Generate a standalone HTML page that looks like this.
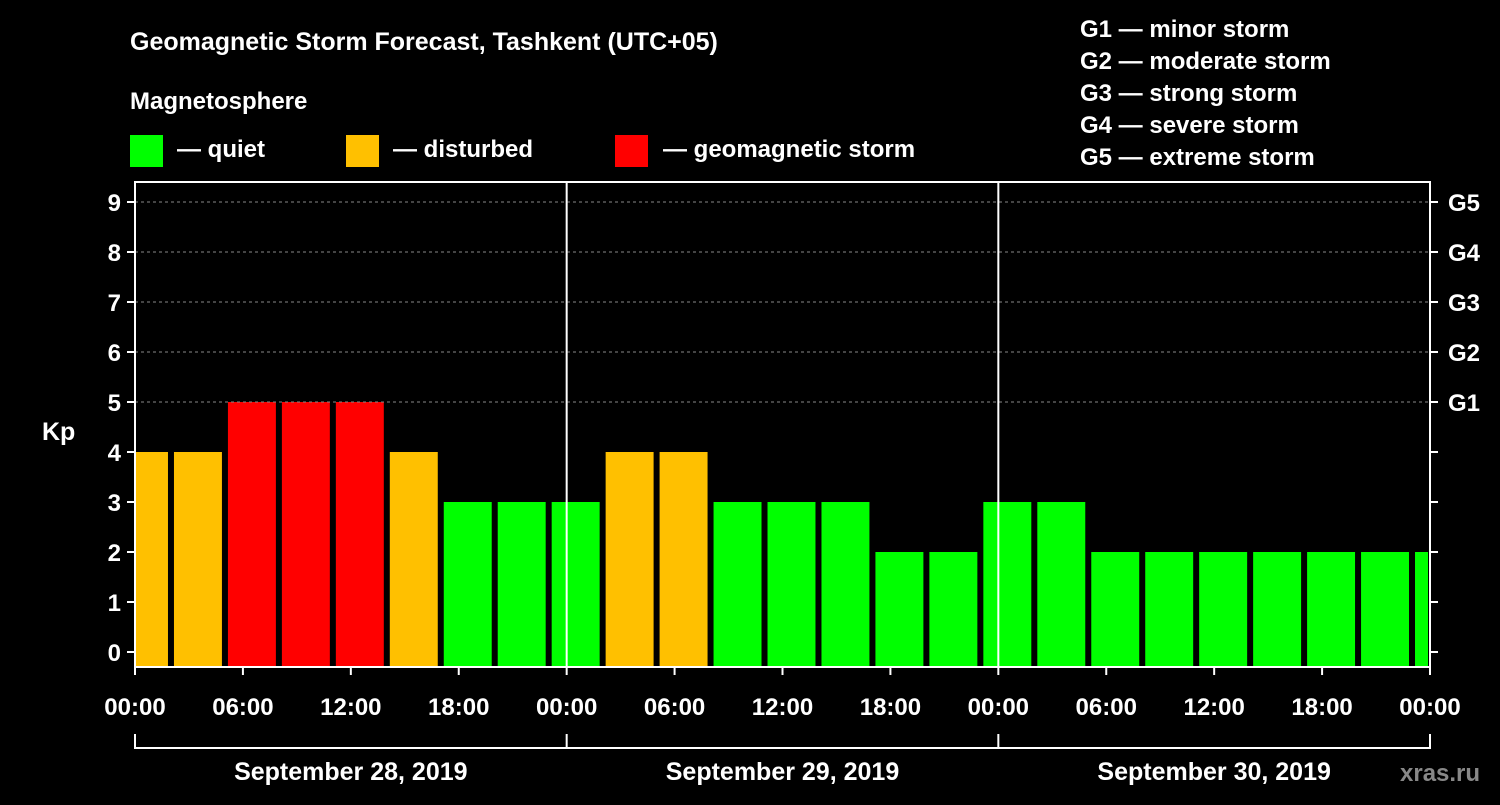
<!DOCTYPE html>
<html><head><meta charset="utf-8"><style>
body{margin:0;background:#000;}
svg text{font-family:"Liberation Sans",Arial,sans-serif;font-weight:bold;fill:#fff;}
</style></head><body>
<svg id="c" width="1500" height="800" xmlns="http://www.w3.org/2000/svg">
<rect width="1500" height="800" fill="#000"/>
<text x="130" y="50" font-size="25">Geomagnetic Storm Forecast, Tashkent (UTC+05)</text>
<text x="130" y="109" font-size="24">Magnetosphere</text>
<g><rect x="130" y="135" width="33" height="32" fill="#00ff00"/><text x="177" y="157" font-size="24">— quiet</text></g>
<g><rect x="346" y="135" width="33" height="32" fill="#ffc000"/><text x="393" y="157" font-size="24">— disturbed</text></g>
<g><rect x="615" y="135" width="33" height="32" fill="#ff0000"/><text x="663" y="157" font-size="24">— geomagnetic storm</text></g>
<g font-size="24">
<text x="1080" y="37">G1 — minor storm</text><text x="1080" y="69">G2 — moderate storm</text><text x="1080" y="101">G3 — strong storm</text><text x="1080" y="133">G4 — severe storm</text><text x="1080" y="165">G5 — extreme storm</text></g>
<text x="42" y="440" font-size="25">Kp</text>
<text x="1400" y="781" font-size="24" fill="#888" style="fill:#888">xras.ru</text>
<g id="plot"></g>
</svg>
<script>
const values=[4,4,5,5,5,4,3,3,3,4,4,3,3,3,2,2,3,3,2,2,2,2,2,2,2];
const yTicks=[0,1,2,3,4,5,6,7,8,9];
const gLabels=["G1","G2","G3","G4","G5"];
const xLabels=["00:00","06:00","12:00","18:00","00:00","06:00","12:00","18:00","00:00","06:00","12:00","18:00","00:00"];
const dates=["September 28, 2019","September 29, 2019","September 30, 2019"];
const L=135,R=1430,T=182,B=667,hw=(R-L)/72;
const y=v=>652-v*50, x=h=>L+h*hw;
const NS="http://www.w3.org/2000/svg",g=document.getElementById('plot');
function mk(t,a,p){const e=document.createElementNS(NS,t);for(const k in a)e.setAttribute(k,a[k]);(p||g).appendChild(e);return e;}
values.forEach((v,i)=>{
 let s=Math.max(0,-1+3*i)+(i?3/hw:0), e=Math.min(72,2+3*i)-3/hw;
 let x0=i==0?L+1:x(-1+3*i)+3, x1=Math.min(x(2+3*i)-3,R-2);
 const c=v>=5?"#ff0000":v>=4?"#ffc000":"#00ff00";
 const r=mk('rect',{x:x0,y:y(v),width:x1-x0,height:B-y(v),fill:c});
 
 
});
[5,6,7,8,9].forEach(v=>{const l=mk('line',{x1:L,x2:R,y1:y(v),y2:y(v),stroke:'#888','stroke-dasharray':'3,3'});});
mk('rect',{x:L,y:T,width:R-L,height:B-T,fill:'none',stroke:'#fff','stroke-width':2});
[24,48].forEach(h=>mk('line',{x1:x(h),x2:x(h),y1:T,y2:B,stroke:'#fff','stroke-width':2}));
yTicks.forEach(v=>{
 mk('line',{x1:L-8,x2:L,y1:y(v),y2:y(v),stroke:'#fff','stroke-width':2});
 mk('line',{x1:R,x2:R+8,y1:y(v),y2:y(v),stroke:'#fff','stroke-width':2});
 const t=mk('text',{x:L-14,y:y(v)+9,'font-size':24,'text-anchor':'end'});t.textContent=v;
 
});
gLabels.forEach((s,i)=>{const t=mk('text',{x:R+18,y:y(5+i)+9,'font-size':24});t.textContent=s;
 });
xLabels.forEach((s,i)=>{
 mk('line',{x1:x(i*6),x2:x(i*6),y1:B,y2:B+8,stroke:'#fff','stroke-width':2});
 const t=mk('text',{x:x(i*6),y:715,'font-size':24,'text-anchor':'middle'});t.textContent=s;
 
});
mk('line',{x1:L,x2:R,y1:748,y2:748,stroke:'#fff','stroke-width':2});
[0,24,48,72].forEach(h=>mk('line',{x1:x(h),x2:x(h),y1:734,y2:749,stroke:'#fff','stroke-width':2}));
dates.forEach((s,i)=>{const t=mk('text',{x:x(12+24*i),y:780,'font-size':25,'text-anchor':'middle'});t.textContent=s;
 });
</script>
</body></html>
